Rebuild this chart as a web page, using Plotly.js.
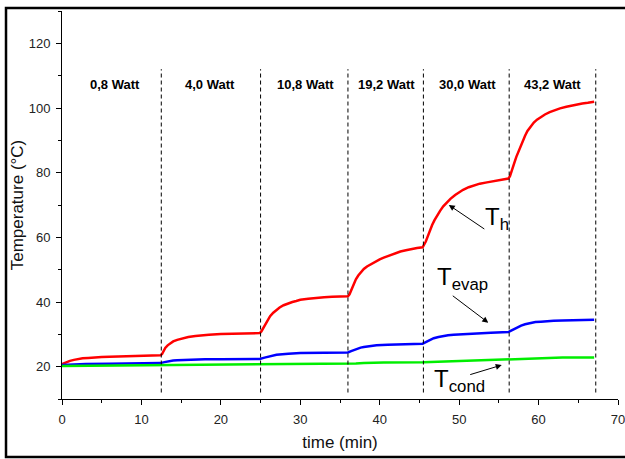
<!DOCTYPE html>
<html>
<head>
<meta charset="utf-8">
<script src="https://cdn.plot.ly/plotly-3.0.1.min.js"></script>
<style>html,body{margin:0;padding:0;background:#fff;}#chart{width:625px;height:459px;}</style>
</head>
<body>
<div id="chart"></div>
<script>
// Hot side temperature T_h
const thTime = [0,0.5,1,1.5,2,2.6,3.3,4,5,6,7.5,9,10,11,12.4,12.6,12.8,13,13.3,13.6,14,14.5,15,15.9,16.8,17.5,18.5,20,21,22.5,24,24.9,25.1,25.3,25.6,25.9,26.2,26.6,27,27.4,27.9,28.4,29,29.5,30,31,32,33,34,35,36,36.2,36.4,36.7,37,37.3,37.6,38,38.4,38.8,39.2,39.6,40.0,40.5,41,41.5,42,42.6,43.3,44,44.7,45.4,45.6,45.8,46,46.3,46.6,46.9,47.2,47.6,48,48.4,48.9,49.5,50,50.5,51.2,52,52.6,53.5,54.5,55.4,56.2,56.4,56.6,56.8,57,57.2,57.5,57.7,58,58.3,58.6,59,59.4,59.8,60.3,60.8,61.4,62,62.7,63.5,64.2,64.8,65.5,66.2,67.0];
const thTemp = [20.8,21.4,21.8,22.1,22.4,22.6,22.7,22.9,23.0,23.1,23.2,23.3,23.4,23.4,23.5,23.9,24.8,25.8,26.6,27.2,27.8,28.3,28.7,29.2,29.5,29.7,29.9,30.1,30.2,30.3,30.4,30.4,30.9,31.8,33.0,34.4,35.6,36.7,37.6,38.3,39.0,39.5,40.0,40.3,40.7,41.0,41.3,41.5,41.6,41.7,41.8,42.4,43.6,45.4,47.0,48.2,49.2,50.2,51.0,51.6,52.2,52.7,53.2,53.7,54.2,54.7,55.1,55.6,56.0,56.4,56.7,56.9,57.6,58.7,60.0,62.0,63.8,65.3,66.7,68.2,69.6,70.7,71.9,73.1,74.0,74.7,75.5,76.1,76.6,77.0,77.5,77.9,78.2,78.9,80.2,81.8,83.4,84.9,86.8,88.0,89.8,91.4,92.9,94.4,95.5,96.4,97.3,98.0,98.7,99.3,99.9,100.4,100.8,101.1,101.4,101.6,101.9];
// Evaporator temperature T_evap
const tevTime = [0,1.5,3,6,9,12.4,12.9,13.4,14,14.5,15.9,18,20,22,24.9,25.5,26.2,27,28.5,30,33,36,36.4,36.8,37.2,37.6,38,38.5,39.6,41,42,44,45.4,45.8,46.3,46.8,47.4,48,48.6,49.3,50.5,52,54,56.2,56.6,57,57.4,57.8,58.3,58.9,59.6,60.3,61.1,61.9,63,64.5,67];
const tevTemp = [20.5,20.7,20.8,20.9,21.0,21.1,21.4,21.7,21.9,22.0,22.2,22.3,22.3,22.4,22.4,22.8,23.3,23.7,24.0,24.2,24.3,24.4,24.8,25.2,25.6,25.9,26.1,26.3,26.6,26.8,26.9,27.0,27.1,27.6,28.3,28.8,29.2,29.5,29.7,29.9,30.1,30.3,30.5,30.7,31.2,31.8,32.3,32.7,33.1,33.5,33.8,33.9,34.1,34.2,34.3,34.4,34.5];
// Condenser temperature T_cond
const tcoTime = [0,6,12.5,18,25,30,36,37,38,40.5,45.5,50,56.2,57,58,59.8,63,67];
const tcoTemp = [20.2,20.3,20.5,20.6,20.7,20.7,20.8,21.0,21.1,21.3,21.4,21.8,22.2,22.4,22.5,22.7,22.8,22.8];

// power steps
const switchTimes = [12.5, 25, 36, 45.5, 56.3, 67.2];
const powerLabels = ['0,8 Watt','4,0 Watt','10,8 Watt','19,2 Watt','30,0 Watt','43,2 Watt'];
const labelTimes = [6.7, 18.6, 30.6, 40.9, 51.1, 61.7];
const labelTemp = 107.4;

const xTicks = [0,10,20,30,40,50,60,70];
const yTicks = [20,40,60,80,100,120];

const font = 'Arial, "Liberation Sans", sans-serif';

const traces = [
  {x: thTime, y: thTemp, mode: 'lines', line: {color: '#ff0000', width: 2.5}, name: 'Th'},
  {x: tevTime, y: tevTemp, mode: 'lines', line: {color: '#0000ff', width: 2.5}, name: 'Tevap'},
  {x: tcoTime, y: tcoTemp, mode: 'lines', line: {color: '#00ee00', width: 2.5}, name: 'Tcond'}
];

const shapes = switchTimes.map(t => ({
  type: 'line', xref: 'x', yref: 'y', x0: t, x1: t, y0: 12, y1: 112,
  line: {color: '#000', width: 1, dash: '4px,3px'}, layer: 'above'
}));
shapes.push({type: 'rect', xref: 'paper', yref: 'paper', x0: -0.1007, x1: 1.03, y0: -0.1495, y1: 1.0077,
  line: {color: '#000', width: 2.5}, fillcolor: 'rgba(0,0,0,0)'});

const annotations = powerLabels.map((txt, i) => ({
  x: labelTimes[i], y: labelTemp, xref: 'x', yref: 'y', text: '<b>' + txt + '</b>',
  showarrow: false, font: {family: font, size: 13, color: '#000'}
}));

const subFont = {family: font, size: 24, color: '#000'};
annotations.push(
  {x: 53.0, y: 65.7, xref: 'x', yref: 'y', text: 'T<sub>h</sub>', showarrow: false, xanchor: 'left', yanchor: 'middle', font: subFont},
  {x: 47.0, y: 47.3, xref: 'x', yref: 'y', text: 'T<sub>evap</sub>', showarrow: false, xanchor: 'left', yanchor: 'middle', font: subFont},
  {x: 46.6, y: 15.8, xref: 'x', yref: 'y', text: 'T<sub>cond</sub>', showarrow: false, xanchor: 'left', yanchor: 'middle', font: subFont},
  {x: 48.7, y: 70.0, xref: 'x', yref: 'y', text: '', showarrow: true, arrowhead: 2, arrowsize: 1.2, arrowwidth: 1, arrowcolor: '#000', ax: 37, ay: 25},
  {x: 53.67, y: 33.6, xref: 'x', yref: 'y', text: '', showarrow: true, arrowhead: 2, arrowsize: 1.2, arrowwidth: 1, arrowcolor: '#000', ax: -37, ay: -28},
  {x: 55.36, y: 20.5, xref: 'x', yref: 'y', text: '', showarrow: true, arrowhead: 2, arrowsize: 1.2, arrowwidth: 1, arrowcolor: '#000', ax: -33, ay: 10}
);

const axisCommon = {
  showline: true, linecolor: '#000', linewidth: 1, showgrid: false, zeroline: false,
  ticks: 'outside', ticklen: 5, tickwidth: 1, tickcolor: '#000',
  tickfont: {family: font, size: 13, color: '#222'}, ticklabelstandoff: 3,
  ticklabeloverflow: 'allow'
};

const layout = {
  width: 625, height: 459,
  margin: {l: 62, r: 7, t: 11, b: 60, pad: 0},
  paper_bgcolor: '#fff', plot_bgcolor: '#fff',
  showlegend: false,
  font: {family: font, color: '#000'},
  xaxis: Object.assign({}, axisCommon, {
    range: [0, 70], tickvals: xTicks, autorange: false,
    minor: {dtick: 5, tick0: 0, ticks: 'outside', ticklen: 3, tickcolor: '#000', tickwidth: 1},
    title: {text: 'time (min)', font: {family: font, size: 17, color: '#111'}, standoff: 10}
  }),
  yaxis: Object.assign({}, axisCommon, {
    range: [10, 130], tickvals: yTicks, autorange: false, automargin: true,
    minor: {dtick: 10, tick0: 0, ticks: 'outside', ticklen: 3, tickcolor: '#000', tickwidth: 1},
    title: {text: 'Temperature (°C)', font: {family: font, size: 17, color: '#111'}, standoff: 0}
  }),
  shapes: shapes,
  annotations: annotations
};

Plotly.newPlot('chart', traces, layout, {displayModeBar: false, staticPlot: true});
</script>
</body>
</html>
